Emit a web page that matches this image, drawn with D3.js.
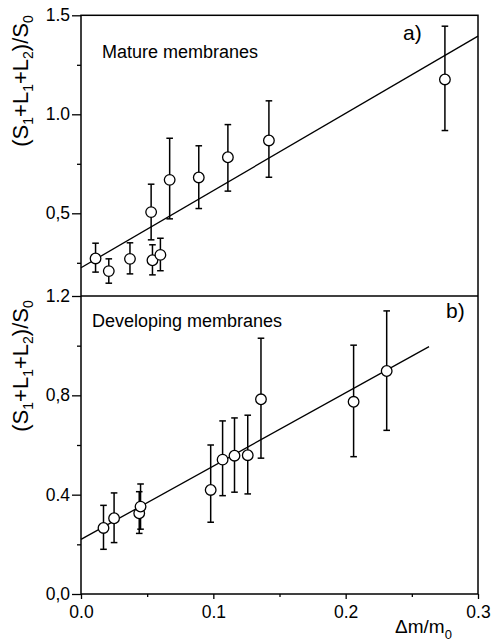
<!DOCTYPE html>
<html>
<head>
<meta charset="utf-8">
<script src="https://d3js.org/d3.v7.min.js"></script>
<style>
  body { margin: 0; background: #fff; }
  svg { display: block; font-family: "Liberation Sans", Arial, sans-serif; }
  .tick text { font-size: 17.5px; fill: #000; }
  .tick line { stroke: #000; stroke-width: 1.3px; }
</style>
</head>
<body>
<div id="chart"></div>
<script>
// x axis
var xTicks = [0, 0.1, 0.2, 0.3];
var xTickLabels = ["0.0", "0.1", "0.2", "0.3"];
var xMinor = [0.05, 0.15, 0.25];

// panel a) mature membranes
var topTicks = [0.5, 1.0, 1.5];
var topTickLabels = ["0,5", "1.0", "1.5"];
var topMinor = [0.25, 0.75, 1.25];
var matureX  = [0.011, 0.021, 0.037, 0.053, 0.054, 0.060, 0.067, 0.089, 0.111, 0.142, 0.275];
var matureY  = [0.272, 0.208, 0.270, 0.506, 0.263, 0.290, 0.669, 0.681, 0.783, 0.868, 1.176];
var matureHi = [0.349, 0.270, 0.351, 0.647, 0.341, 0.374, 0.879, 0.841, 0.948, 1.068, 1.445];
var matureLo = [0.203, 0.147, 0.194, 0.366, 0.189, 0.210, 0.472, 0.524, 0.612, 0.682, 0.918];
var matureFitX = [0, 0.3];
var matureFitY = [0.225, 1.395];

// panel b) developing membranes
var botTicks = [0, 0.4, 0.8, 1.2];
var botTickLabels = ["0,0", "0.4", "0,8", "1.2"];
var botMinor = [0.2, 0.6, 1.0];
var devX  = [0.017, 0.025, 0.044, 0.045, 0.098, 0.107, 0.116, 0.126, 0.136, 0.206, 0.231];
var devY  = [0.266, 0.305, 0.325, 0.352, 0.419, 0.541, 0.557, 0.559, 0.784, 0.774, 0.898];
var devHi = [0.357, 0.407, 0.412, 0.443, 0.600, 0.697, 0.709, 0.720, 1.030, 1.002, 1.140];
var devLo = [0.180, 0.207, 0.244, 0.261, 0.289, 0.396, 0.410, 0.403, 0.547, 0.553, 0.659];
var devFitX = [0, 0.263];
var devFitY = [0.220, 0.996];

var width = 491, height = 642;
var svg = d3.select("#chart").append("svg")
    .attr("width", width).attr("height", height);
svg.append("rect").attr("width", width).attr("height", height).attr("fill", "#fff");

var x = d3.scaleLinear().domain([0, 0.3]).range([81, 478]);
var yTop = d3.scaleLinear().domain([0.5, 1.5]).range([213.3, 15.3]);
var yBot = d3.scaleLinear().domain([0, 1.2]).range([594, 296]);
var topBottomY = 296;
yTop.domain([yTop.invert(topBottomY), 1.5]).range([topBottomY, 15.3]);

function label(arr, labels) {
    return function (d) { return labels[arr.indexOf(d)]; };
}

// axes
svg.append("g").attr("transform", "translate(0,594)")
    .call(d3.axisBottom(x).tickValues(xTicks).tickFormat(label(xTicks, xTickLabels))
        .tickSize(5).tickSizeOuter(0).tickPadding(7))
    .call(function (g) { g.select(".domain").remove(); });
svg.append("g").attr("transform", "translate(0,594)")
    .call(d3.axisBottom(x).tickValues(xMinor).tickFormat("").tickSize(3).tickSizeOuter(0))
    .call(function (g) { g.select(".domain").remove(); });

[[yTop, topTicks, topTickLabels, topMinor], [yBot, botTicks, botTickLabels, botMinor]].forEach(function (p) {
    svg.append("g").attr("transform", "translate(81,0)")
        .call(d3.axisLeft(p[0]).tickValues(p[1]).tickFormat(label(p[1], p[2]))
            .tickSize(9).tickSizeOuter(0).tickPadding(2))
        .call(function (g) { g.select(".domain").remove(); });
    svg.append("g").attr("transform", "translate(81,0)")
        .call(d3.axisLeft(p[0]).tickValues(p[3]).tickFormat("").tickSize(4).tickSizeOuter(0))
        .call(function (g) { g.select(".domain").remove(); });
});

// frame
var frame = svg.append("g").attr("stroke", "#000").attr("stroke-width", 1.5).attr("fill", "none");
frame.append("rect").attr("x", x(0)).attr("y", yTop(1.5))
    .attr("width", x(0.3) - x(0)).attr("height", yBot(0) - yTop(1.5));
frame.append("line").attr("x1", x(0)).attr("x2", x(0.3)).attr("y1", topBottomY).attr("y2", topBottomY);

// fit lines
var lineTop = d3.line().x(function (d) { return x(d[0]); }).y(function (d) { return yTop(d[1]); });
var lineBot = d3.line().x(function (d) { return x(d[0]); }).y(function (d) { return yBot(d[1]); });
svg.append("path").attr("d", lineTop(d3.zip(matureFitX, matureFitY)))
    .attr("fill", "none").attr("stroke", "#000").attr("stroke-width", 1.3);
svg.append("path").attr("d", lineBot(d3.zip(devFitX, devFitY)))
    .attr("fill", "none").attr("stroke", "#000").attr("stroke-width", 1.3);

function drawPoints(xs, ys, hi, lo, y) {
    var data = xs.map(function (v, i) { return { x: v, y: ys[i], hi: hi[i], lo: lo[i] }; });
    var g = svg.append("g").attr("stroke", "#000").attr("stroke-width", 1.5);
    var cap = 3.3;
    var eb = g.selectAll("g.eb").data(data).enter().append("g").attr("class", "eb");
    eb.append("line")
        .attr("x1", function (d) { return x(d.x); }).attr("x2", function (d) { return x(d.x); })
        .attr("y1", function (d) { return y(d.hi); }).attr("y2", function (d) { return y(d.lo); });
    eb.append("line")
        .attr("x1", function (d) { return x(d.x) - cap; }).attr("x2", function (d) { return x(d.x) + cap; })
        .attr("y1", function (d) { return y(d.hi); }).attr("y2", function (d) { return y(d.hi); });
    eb.append("line")
        .attr("x1", function (d) { return x(d.x) - cap; }).attr("x2", function (d) { return x(d.x) + cap; })
        .attr("y1", function (d) { return y(d.lo); }).attr("y2", function (d) { return y(d.lo); });
    g.selectAll("circle").data(data).enter().append("circle")
        .attr("cx", function (d) { return x(d.x); })
        .attr("cy", function (d) { return y(d.y); })
        .attr("r", 5.3).attr("fill", "#fff").attr("stroke-width", 1.3);
}
drawPoints(matureX, matureY, matureHi, matureLo, yTop);
drawPoints(devX, devY, devHi, devLo, yBot);

// texts
svg.append("text").attr("x", 102).attr("y", 57.5).attr("font-size", 18).text("Mature membranes");
svg.append("text").attr("x", 92).attr("y", 327).attr("font-size", 18).text("Developing membranes");
svg.append("text").attr("x", 403).attr("y", 40).attr("font-size", 21).text("a)");
svg.append("text").attr("x", 446).attr("y", 318).attr("font-size", 21).text("b)");

function yLabel(cy) {
    var t = svg.append("text").attr("transform", "translate(28," + cy + ") rotate(-90)")
        .attr("text-anchor", "middle").attr("font-size", 22);
    var parts = [["(S", 0], ["1", 1], ["+L", 0], ["1", 1], ["+L", 0], ["2", 1], [")/S", 0], ["0", 1]];
    var prev = 0;
    parts.forEach(function (p) {
        var s = t.append("tspan").text(p[0]);
        if (p[1]) { s.attr("font-size", 14).attr("dy", 5); prev = 1; }
        else if (prev) { s.attr("dy", -5); prev = 0; }
    });
}
yLabel(81);
yLabel(366);

var xl = svg.append("text").attr("x", 395).attr("y", 633).attr("font-size", 19);
xl.append("tspan").text("\u0394m/m");
xl.append("tspan").attr("font-size", 13).attr("dy", 6).text("0");
</script>
</body>
</html>
